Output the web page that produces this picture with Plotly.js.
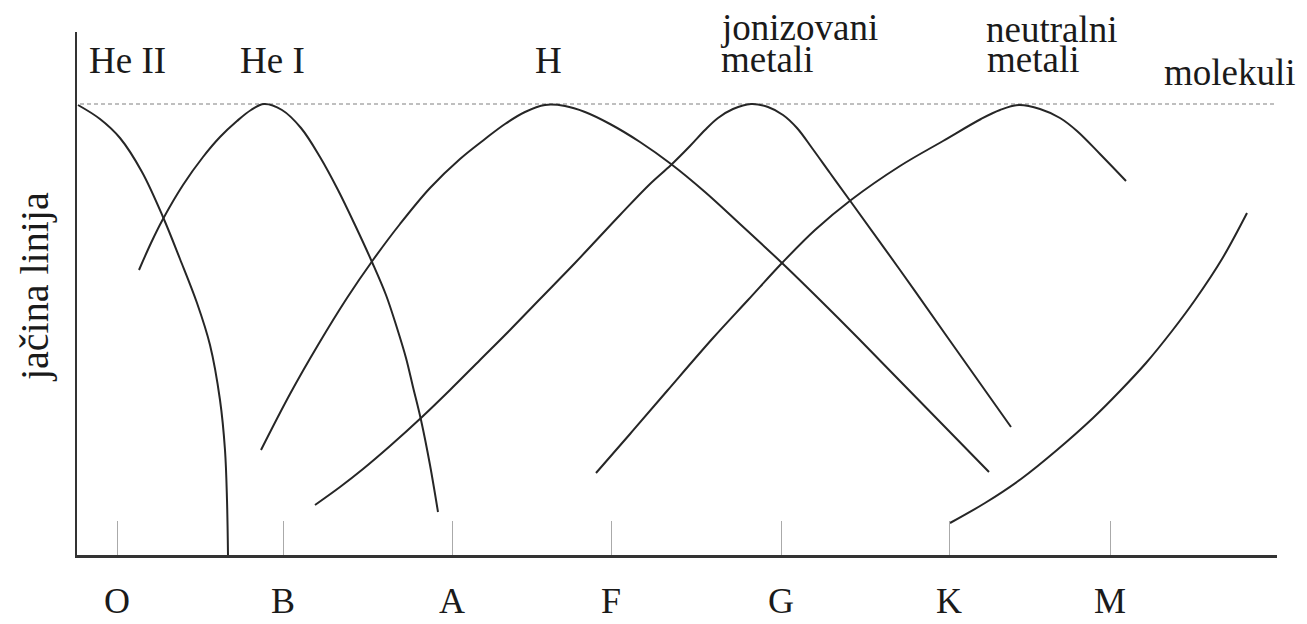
<!DOCTYPE html>
<html>
<head>
<meta charset="utf-8">
<script src="https://cdn.plot.ly/plotly-3.0.1.min.js"></script>
<style>
  html, body { margin: 0; padding: 0; background: #fff; }
  #chart { width: 1307px; height: 624px; }
</style>
</head>
<body>
<div id="chart"></div>
<script>
// Spectral classes (x-axis ticks)
const classLabels = ['O', 'B', 'A', 'F', 'G', 'K', 'M'];
const classPositions = [40, 206, 375, 534, 704, 872, 1033];

// Axis extents (position along the sequence, line strength)
const xRange = [0, 1200];
const yRange = [0, 523];

// Maximum line strength level (dashed reference line)
const maxLevel = 451;

// Line strength curves
const heIIx = [1, 23, 43, 65, 86, 103, 120, 133, 143, 148, 150, 151];
const heIIy = [450, 436, 417, 383, 338, 296, 252, 210, 155, 105, 55, 0];

const heIx = [62, 74, 86, 106, 126, 143, 160, 174, 187, 205, 224, 243, 261, 278, 295, 309, 320, 329, 336, 344, 353, 361];
const heIy = [285, 312, 336, 370, 398, 418, 434, 445, 451, 445, 427, 398, 365, 330, 293, 260, 227, 197, 168, 135, 90, 43];

const hX = [184, 213, 241, 270, 296, 323, 353, 383, 408, 428, 448, 468, 488, 508, 533, 563, 594, 628, 663, 705, 743, 781, 823, 868, 912];
const hY = [105, 161, 210, 257, 295, 331, 367, 396, 416, 431, 443, 450, 449, 443, 431, 413, 391, 363, 331, 292, 255, 217, 174, 128, 83];

const ionMetX = [238, 263, 286, 313, 345, 373, 403, 433, 463, 498, 543, 573, 594, 613, 628, 641, 656, 674, 691, 706, 720, 735, 753, 774, 823, 871, 934];
const ionMetY = [50, 68, 86, 109, 138, 165, 195, 225, 256, 292, 340, 371, 390, 409, 425, 437, 446, 451, 448, 440, 427, 407, 382, 353, 285, 217, 128];

const neuMetX = [519, 553, 590, 636, 671, 705, 738, 774, 823, 866, 904, 923, 942, 963, 983, 1000, 1023, 1049];
const neuMetY = [82, 121, 164, 217, 255, 292, 325, 355, 389, 414, 436, 445, 450, 446, 437, 424, 401, 374];

const molX = [873, 908, 944, 980, 1016, 1043, 1069, 1095, 1118, 1145, 1170];
const molY = [32, 52, 76, 105, 137, 164, 192, 224, 255, 296, 342];

// Curve labels
const labelTexts = ['He II', 'He I', 'H', 'jonizovani', 'metali', 'neutralni', 'metali', 'molekuli'];
const labelX = [50, 195, 471, 722, 690, 975, 956, 1153];
const labelY = [494, 494, 494, 528, 495, 526, 495, 482];

const yTitle = 'jačina linija';

const lineStyle = { color: '#262626', width: 2, shape: 'spline', smoothing: 1 };
function curve(x, y, name) {
  return { x: x, y: y, name: name, type: 'scatter', mode: 'lines', line: lineStyle, hoverinfo: 'name' };
}

const data = [
  curve(heIIx, heIIy, 'He II'),
  curve(heIx, heIy, 'He I'),
  curve(hX, hY, 'H'),
  curve(ionMetX, ionMetY, 'jonizovani metali'),
  curve(neuMetX, neuMetY, 'neutralni metali'),
  curve(molX, molY, 'molekuli')
];

const serif = "'Liberation Serif', 'Times New Roman', serif";
const ySpan = yRange[1] - yRange[0];
const annotations = labelTexts.map((t, i) => ({
  text: t, x: labelX[i], y: (labelY[i] - yRange[0]) / ySpan, xref: 'x', yref: 'paper',
  showarrow: false, xanchor: 'center', yanchor: 'middle',
  font: { family: serif, size: 37, color: '#1a1a1a' }
}));
annotations.push({
  text: yTitle, xref: 'paper', yref: 'paper', x: -0.036, y: 0.512,
  textangle: -90, showarrow: false, xanchor: 'center', yanchor: 'middle',
  font: { family: serif, size: 40, color: '#1a1a1a' }
});

const layout = {
  width: 1307, height: 624,
  margin: { l: 77, r: 30, t: 32, b: 69, pad: 0 },
  paper_bgcolor: '#ffffff', plot_bgcolor: '#ffffff',
  showlegend: false,
  xaxis: {
    range: xRange, fixedrange: true,
    showgrid: false, zeroline: false,
    showline: true, linecolor: '#333', linewidth: 2.5,
    tickmode: 'array', tickvals: classPositions, ticktext: classLabels,
    ticks: 'inside', ticklen: 34, tickwidth: 1, tickcolor: '#aaa',
    ticklabelstandoff: 12,
    tickfont: { family: serif, size: 36, color: '#1a1a1a' }
  },
  yaxis: {
    range: yRange, fixedrange: true,
    showgrid: false, zeroline: false,
    showline: true, linecolor: '#333', linewidth: 2,
    showticklabels: false, ticks: ''
  },
  shapes: [{
    type: 'line', xref: 'paper', yref: 'y',
    x0: 0.0025, x1: 0.9975, y0: maxLevel, y1: maxLevel,
    line: { color: '#aaa', width: 1.5, dash: '4px,3px' }, layer: 'below'
  }],
  annotations: annotations
};

Plotly.newPlot('chart', data, layout, { displayModeBar: false, staticPlot: true });
</script>
</body>
</html>
